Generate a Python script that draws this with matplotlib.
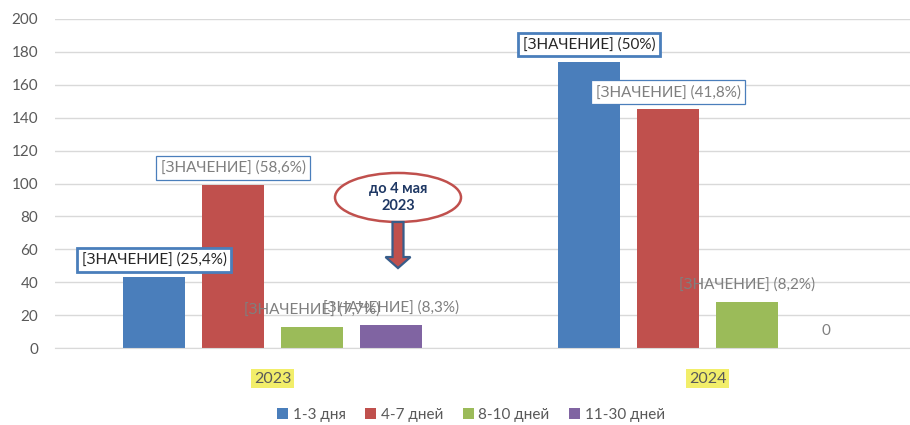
import numpy as np
import matplotlib.pyplot as plt
from matplotlib.patches import Ellipse, FancyArrow

plt.rcParams['font.family'] = ['Lato', 'DejaVu Sans']

years = ['2023', '2024']
series = ['1-3 дня', '4-7 дней', '8-10 дней', '11-30 дней']
colors = ['#4a7ebb', '#c0504d', '#9bbb59', '#8064a2']
values = {
    '1-3 дня': [43, 174],
    '4-7 дней': [99, 145],
    '8-10 дней': [13, 28],
    '11-30 дней': [14, 0],
}
labels = {
    '1-3 дня': ['[ЗНАЧЕНИЕ] (25,4%)', '[ЗНАЧЕНИЕ] (50%)'],
    '4-7 дней': ['[ЗНАЧЕНИЕ] (58,6%)', '[ЗНАЧЕНИЕ] (41,8%)'],
    '8-10 дней': ['[ЗНАЧЕНИЕ] (7,7%)', '[ЗНАЧЕНИЕ] (8,2%)'],
    '11-30 дней': ['[ЗНАЧЕНИЕ] (8,3%)', '0'],
}
# label style per series: thick box / thin box / none
label_style = ['thick', 'thin', None, None]
callout = 'до 4 мая\n2023'

gray = '#595959'
fig = plt.figure(figsize=(9.1, 4.25), dpi=100)
ax = fig.add_axes([55 / 910, 1 - 348 / 425, 1 - 55 / 910, (348 - 19) / 425])

x = np.arange(len(years))
width = 0.1425
step = 0.1816
for i, s in enumerate(series):
    xs = x + (i - 1.5) * step
    ax.bar(xs, values[s], width=width, color=colors[i], label=s, zorder=2)
    for xi, v, lab in zip(xs, values[s], labels[s]):
        st = label_style[i]
        kw = dict(xy=(xi, v), xytext=(0, 12.5), textcoords='offset points',
                  ha='center', va='center', fontsize=11, zorder=5)
        if st == 'thick':
            kw['color'] = '#262626'
            kw['bbox'] = dict(boxstyle='square,pad=0.3', fc='white',
                              ec='#4a7ebb', lw=2.0)
        elif st == 'thin':
            kw['color'] = '#7f7f7f'
            kw['bbox'] = dict(boxstyle='square,pad=0.3', fc='white',
                              ec='#4a7ebb', lw=0.9)
        else:
            kw['color'] = '#7f7f7f'
        ax.annotate(lab, **kw)

ax.set_xlim(-0.5, 1.4655)
ax.set_ylim(0, 200)
ax.set_yticks(np.arange(0, 201, 20))
ax.yaxis.grid(True, color='#d9d9d9', lw=1.0, zorder=0)
ax.set_axisbelow(True)
for sp in ['top', 'right', 'left']:
    ax.spines[sp].set_visible(False)
ax.spines['bottom'].set_color('#d9d9d9')
ax.tick_params(axis='y', length=0, pad=12, labelsize=11, labelcolor=gray)
ax.tick_params(axis='x', length=0, pad=17, labelsize=11.5, labelcolor=gray)
ax.set_xticks(x)
ax.set_xticklabels(years)
for t in ax.get_xticklabels():
    t.set_bbox(dict(boxstyle='square,pad=0.15', fc='#f2ee6a', ec='none'))

# callout ellipse and arrow
ax.add_patch(Ellipse((0.2885, 91.5), 0.2897, 29.8, fc='white', ec='#c0504d',
                     lw=1.8, zorder=6))
ax.text(0.2885, 91.5, callout, ha='center', va='center', fontsize=10.5,
        fontweight='bold', color='#1f3864', zorder=7, linespacing=1.25)
ax.add_patch(FancyArrow(0.2885, 76.6, 0, -28.0, width=0.0253,
                        head_width=0.0575, head_length=6.7,
                        length_includes_head=True, fc='#c0504d',
                        ec='#385d8a', lw=1.6, zorder=6))

handles, labs = ax.get_legend_handles_labels()
leg = fig.legend(handles, labs, loc='center', bbox_to_anchor=(471 / 910, 1 - 415 / 425),
                 ncol=4, frameon=False, fontsize=11, handlelength=0.7,
                 handleheight=0.7, handletextpad=0.3, columnspacing=1.3)
for t in leg.get_texts():
    t.set_color(gray)

fig.savefig('out.png', dpi=100)
